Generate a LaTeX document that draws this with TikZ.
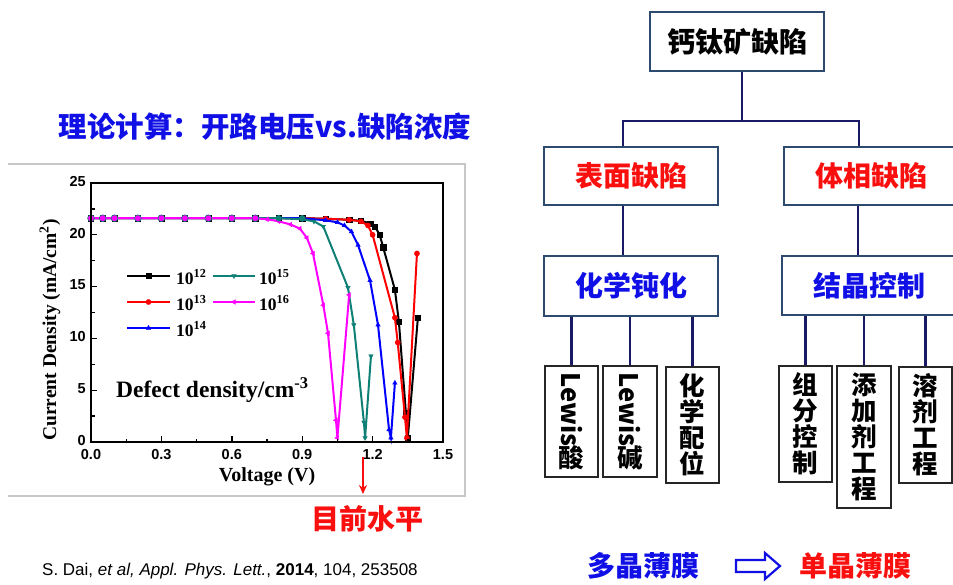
\documentclass[tikz,border=0pt]{standalone}
\usepackage{fontspec}
\setmainfont{Liberation Serif}
\newfontfamily\cjk{Noto Sans CJK SC}
\newfontfamily\arial{Liberation Sans}
\usetikzlibrary{arrows.meta,plotmarks}
\definecolor{tblue}{RGB}{15,15,230}
\definecolor{tred}{RGB}{250,15,15}
\definecolor{bxb}{RGB}{45,75,110}
\definecolor{cnv}{RGB}{25,25,100}
\definecolor{tealc}{RGB}{15,128,118}
\definecolor{magc}{RGB}{255,0,255}
\definecolor{redc}{RGB}{255,0,0}
\definecolor{bluec}{RGB}{0,0,255}
\definecolor{framegray}{RGB}{200,200,200}
\begin{document}
\begin{tikzpicture}[x=1pt,y=-1pt,
  box/.style={draw=bxb, line width=2.3pt, minimum width=174pt, inner sep=0pt,
    font=\cjk\bfseries\fontsize{28}{30}\selectfont},
  leaf/.style={draw=black!85, line width=1.8pt, inner sep=0pt, align=center,
    font=\cjk\bfseries\fontsize{25.5}{26}\selectfont},
  conn/.style={draw=cnv, line width=2.6pt},
  tick/.style={line width=1.4pt},
  ticklab/.style={font=\arial\bfseries\fontsize{14.5}{16}\selectfont, inner sep=0pt,
    text height=10.5pt, text depth=0pt},
  axlab/.style={font=\bfseries\fontsize{19.5}{22}\selectfont, inner sep=0pt},
  curve/.style={line width=2pt, mark size=2.6pt},
  leglab/.style={font=\bfseries\fontsize{17.5}{19}\selectfont, inner sep=0pt, anchor=west},
  cjkt/.style={font=\cjk\bfseries\fontsize{28}{30}\selectfont, inner sep=0pt}]
\clip (0,0) rectangle (953,585);
\fill[white] (0,0) rectangle (953,585);

% ---------- title ----------
\node[cjkt, text=tblue, font=\cjk\bfseries\fontsize{28.5}{30}\selectfont] (title) at (265,127) {理论计算：开路电压vs.缺陷浓度};

% ---------- plot frame ----------
\draw[framegray, line width=1.6pt] (8,164) -- (465,164) -- (465,496) -- (8,496);

\begin{scope}[shift={(91,442)}, x=234.67pt, y=10.36pt]
  % curves
  \draw[curve, color=black, mark=square*, mark options={line width=0.4pt}] plot coordinates {
    (0,21.6) (0.05,21.6) (0.1,21.6) (0.2,21.6) (0.3,21.6) (0.4,21.6) (0.5,21.6)
    (0.6,21.6) (0.7,21.6) (0.8,21.6) (0.9,21.6) (1.0,21.55) (1.1,21.45) (1.15,21.35)
    (1.19,21.1) (1.21,20.8) (1.23,20.0) (1.245,18.8) (1.295,14.7) (1.312,11.6)
    (1.342,2.8) (1.35,0.4) (1.393,12.0)};
  \draw[curve, color=redc, mark=*, mark options={line width=0.4pt}] plot coordinates {
    (0,21.6) (0.05,21.6) (0.1,21.6) (0.2,21.6) (0.3,21.6) (0.4,21.6) (0.5,21.6)
    (0.6,21.6) (0.7,21.6) (0.8,21.6) (0.9,21.6) (1.0,21.55) (1.1,21.45) (1.15,21.3)
    (1.18,20.9) (1.2,20.0) (1.295,12.0) (1.307,9.6) (1.338,2.4) (1.346,0.4) (1.389,18.2)};
  \draw[curve, color=bluec, mark=triangle*, mark options={line width=0.4pt}] plot coordinates {
    (0,21.6) (0.05,21.6) (0.1,21.6) (0.2,21.6) (0.3,21.6) (0.4,21.6) (0.5,21.6)
    (0.6,21.6) (0.7,21.6) (0.8,21.6) (0.9,21.6) (1.0,21.4) (1.05,21.2) (1.08,20.9)
    (1.11,20.3) (1.138,19.0) (1.189,15.6) (1.223,11.3) (1.27,1.2) (1.278,0.4) (1.295,5.7)};
  \draw[curve, color=tealc, mark=triangle*, mark options={rotate=180, line width=0.4pt}] plot coordinates {
    (0,21.6) (0.05,21.6) (0.1,21.6) (0.2,21.6) (0.3,21.6) (0.4,21.6) (0.5,21.6)
    (0.6,21.6) (0.7,21.6) (0.8,21.6) (0.9,21.5) (0.95,21.3) (0.99,20.8)
    (1.095,14.9) (1.12,11.3) (1.163,1.9) (1.168,0.4) (1.193,8.3)};
  \draw[curve, color=magc, mark=triangle*, mark options={rotate=90, line width=0.4pt}] plot coordinates {
    (0,21.6) (0.05,21.6) (0.1,21.6) (0.2,21.6) (0.3,21.6) (0.4,21.6) (0.5,21.6)
    (0.6,21.6) (0.7,21.6) (0.75,21.5) (0.8,21.3) (0.85,21.0) (0.89,20.6) (0.92,19.7)
    (0.946,18.2) (0.99,13.2) (1.01,10.5) (1.044,2.1) (1.05,0.4) (1.10,14.2)};
  \foreach \v in {0,0.05,0.1,0.2,0.3,0.4,0.5,0.6,0.7}
    \fill[magc, draw=tealc, line width=0.6pt] (\v,21.6) circle (3.4pt);
  \foreach \v in {0.8,0.9}
    \fill[tealc] (\v,21.6) circle (3.2pt);

  % axes
  \draw[line width=1.8pt] (0,0) rectangle (1.5,25);
  \foreach \v in {0.3,0.6,0.9,1.2} \draw[tick] (\v,0) -- ++(0pt,6pt);
  \foreach \v in {0.15,0.45,0.75,1.05,1.35} \draw[tick] (\v,0) -- ++(0pt,3.5pt);
  \foreach \j in {5,10,15,20} \draw[tick] (0,\j) -- ++(6pt,0pt);
  \foreach \j in {2.5,7.5,12.5,17.5,22.5} \draw[tick] (0,\j) -- ++(3.5pt,0pt);
  \foreach \v/\t [count=\i] in {0/0.0,0.3/0.3,0.6/0.6,0.9/0.9,1.2/1.2,1.5/1.5}
    \node[ticklab, anchor=north] (xt\i) at ([yshift=-7pt]\v,0) {\t};
  \foreach \j [count=\i] in {0,5,10,15,20,25}
    \node[ticklab, anchor=east] (yt\i) at ([xshift=-5pt,yshift=2pt]0,\j) {\j};
\end{scope}

\node[axlab, font=\bfseries\fontsize{20}{22}\selectfont] (xlab) at (267,477) {Voltage (V)};
\node[axlab, rotate=90] (ylab) at (50,330) {Current Density (mA/cm\textsuperscript{2})};
\node[axlab, anchor=west, font=\bfseries\fontsize{23.5}{26}\selectfont] (dd) at (116,390) {Defect density/cm\textsuperscript{-3}};

% legend
\draw[curve, black, mark=square*, mark indices={2}, mark options={line width=0.4pt}] plot coordinates {(127,276) (148.5,276) (170,276)};
\draw[curve, redc, mark=*, mark indices={2}, mark options={line width=0.4pt}] plot coordinates {(127,302) (148.5,302) (170,302)};
\draw[curve, bluec, mark=triangle*, mark indices={2}, mark options={line width=0.4pt}] plot coordinates {(127,328) (148.5,328) (170,328)};
\draw[curve, tealc, mark=triangle*, mark indices={2}, mark options={rotate=180, line width=0.4pt}] plot coordinates {(213,276) (234,276) (255,276)};
\draw[curve, magc, mark=triangle*, mark indices={2}, mark options={rotate=90, line width=0.4pt}] plot coordinates {(213,302) (234,302) (255,302)};
\node[leglab] (lg1) at (176,277) {10\textsuperscript{12}};
\node[leglab] (lg2) at (176,303) {10\textsuperscript{13}};
\node[leglab] (lg3) at (176,329) {10\textsuperscript{14}};
\node[leglab] (lg4) at (259,277) {10\textsuperscript{15}};
\node[leglab] (lg5) at (259,303) {10\textsuperscript{16}};

% current level
\coordinate (at) at (363,457);
\node[cjkt, text=tred] (mq) at (367,519) {目前水平};
\draw[tred, line width=2pt, -{Stealth[length=9pt,width=8pt]}] (at) -- (at |- 0,494);

% citation
\node[font=\arial\fontsize{17}{19}\selectfont, anchor=west, inner sep=0pt] (cite) at (42,571)
  {S. Dai, \textit{et al, Appl. Phys. Lett.}, \textbf{2014}, 104, 253508};

% ---------- tree ----------
\node[box, minimum height=59pt] (rt) at (737,41.5) {钙钛矿缺陷};
\node[box, minimum height=58pt, text=tred] (sd) at (631,176) {表面缺陷};
\node[box, minimum height=58pt, text=tred] (bd) at (871,176) {体相缺陷};
\node[box, minimum height=60pt, text=tblue] (cp) at (631,286) {化学钝化};
\node[box, minimum height=59pt, text=tblue] (cc) at (869,285.5) {结晶控制};

\node[leaf, minimum width=53pt, minimum height=111pt] (l1) at (571.5,421.5) {\rotatebox{-90}{Lewis}\\[-2pt]酸};
\node[leaf, minimum width=54pt, minimum height=111pt] (l2) at (630,421.5) {\rotatebox{-90}{Lewis}\\[-2pt]碱};
\node[leaf, minimum width=53pt, minimum height=116pt] (l3) at (692.5,425) {化\\学\\配\\位};
\node[leaf, minimum width=53pt, minimum height=116pt] (l4) at (805.5,424) {组\\分\\控\\制};
\node[leaf, minimum width=54pt, minimum height=142pt] (l5) at (864,437) {添\\加\\剂\\工\\程};
\node[leaf, minimum width=53pt, minimum height=116pt] (l6) at (925.5,425) {溶\\剂\\工\\程};

\draw[conn] ([xshift=5pt]rt.south) -- ++(0,49) coordinate (hb);
\draw[conn] ([xshift=80pt]sd.north west) |- (hb) -| ([xshift=76pt]bd.north west);
\draw[conn] ([xshift=80pt]sd.south west) -- ([xshift=80pt]cp.north west);
\draw[conn] ([xshift=75pt]bd.south west) -- ([xshift=77pt]cc.north west);
\foreach \l in {l1,l2,l3} \draw[conn] (\l.north) -- (\l.north |- cp.south);
\foreach \l in {l4,l5,l6} \draw[conn] (\l.north) -- (\l.north |- cc.south);

% ---------- bottom ----------
\node[cjkt, text=tblue] (poly) at (643,566) {多晶薄膜};
\node[cjkt, text=tred] (mono) at (855,566) {单晶薄膜};
\draw[tblue, line width=2.2pt, line join=miter]
  (736,560) -- (765,560) -- (765,553) -- (780,566) -- (765,579) -- (765,572) -- (736,572) -- cycle;
\end{tikzpicture}
\end{document}
